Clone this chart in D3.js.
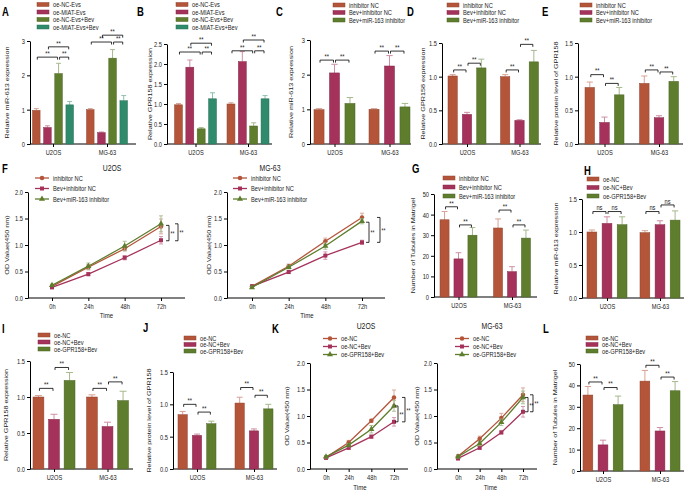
<!DOCTYPE html>
<html><head><meta charset="utf-8">
<script src="https://cdn.jsdelivr.net/npm/d3@7"></script>
<style>body{margin:0;background:#fff}svg{display:block}text{font-family:"Liberation Sans",Arial,sans-serif;fill:#1a1a1a}</style>
</head><body><svg id="c" width="685" height="492"></svg>
<script>
// ---------- DATA ----------
const cells = ["U2OS", "MG-63"];
const timeValues = [0, 24, 48, 72];
const timeLabels = ["0h", "24h", "48h", "72h"];

const legEvs = ["oe-NC-Evs", "oe-MIAT-Evs", "oe-NC-Evs+Bev", "oe-MIAT-Evs+Bev"];
const legInh = ["inhibitor NC", "Bev+inhibitor NC", "Bev+miR-163 inhibitor"];
const legOe = ["oe-NC", "oe-NC+Bev", "oe-GPR158+Bev"];

// bar panels: [cell][series]
const meanA = [[0.98, 0.48, 2.05, 1.14], [1.00, 0.33, 2.50, 1.26]];
const errA  = [[0.05, 0.05, 0.30, 0.10], [0.03, 0.02, 0.25, 0.15]];
const sigA  = [[0,0,2,2.53,"**"],[0,2,3,2.53,"**"],[0,1,3,2.83,"**"],[1,0,2,2.97,"**"],[1,2,3,2.97,"**"],[1,1,3,3.17,"**"]];

const meanB = [[0.98, 1.92, 0.38, 1.13], [1.00, 2.06, 0.45, 1.13]];
const errB  = [[0.03, 0.18, 0.03, 0.15], [0.03, 0.25, 0.08, 0.08]];
const sigB  = [[0,0,2,2.30,"**"],[0,2,3,2.30,"**"],[0,1,3,2.52,"**"],[1,0,2,2.33,"**"],[1,2,3,2.33,"**"],[1,1,3,2.60,"**"]];

const meanC = [[0.99, 2.05, 1.17], [1.00, 2.25, 1.07]];
const errC  = [[0.03, 0.25, 0.17], [0.02, 0.30, 0.10]];
const sigC  = [[0,0,1,2.42,"**"],[0,1,2,2.42,"**"],[1,0,1,2.68,"**"],[1,1,2,2.68,"**"]];

const meanD = [[1.01, 0.44, 1.13], [1.00, 0.35, 1.22]];
const errD  = [[0.02, 0.03, 0.13], [0.03, 0.01, 0.17]];
const sigD  = [[0,0,1,1.10,"**"],[0,1,2,1.20,"**"],[1,0,1,1.10,"**"],[1,1,2,1.48,"**"]];

const meanE = [[0.84, 0.32, 0.73], [0.90, 0.39, 0.93]];
const errE  = [[0.08, 0.08, 0.11], [0.11, 0.03, 0.07]];
const sigE  = [[0,0,1,1.03,"**"],[0,1,2,0.90,"**"],[1,0,1,1.10,"**"],[1,1,2,1.07,"**"]];

const meanG = [[37.5, 18.5, 30.0], [33.5, 12.3, 28.6]];
const errG  = [[4.0, 3.0, 3.7], [4.4, 2.4, 3.9]];
const sigG  = [[0,0,1,43.8,"**"],[0,1,2,35.0,"**"],[1,0,1,42.2,"**"],[1,1,2,35.0,"**"]];

const meanH = [[1.00, 1.13, 1.11], [0.99, 1.11, 1.18]];
const errH  = [[0.03, 0.10, 0.12], [0.03, 0.06, 0.14]];
const sigH  = [[0,0,1,1.31,"ns"],[0,1,2,1.31,"ns"],[1,0,1,1.31,"ns"],[1,1,2,1.41,"ns"]];

const meanI = [[1.00, 0.69, 1.23], [1.00, 0.59, 0.95]];
const errI  = [[0.02, 0.07, 0.11], [0.03, 0.06, 0.13]];
const sigI  = [[0,0,1,1.12,"**"],[0,1,2,1.41,"**"],[1,0,1,1.12,"**"],[1,1,2,1.21,"**"]];

const meanJ = [[0.84, 0.52, 0.70], [1.02, 0.59, 0.93]];
const errJ  = [[0.05, 0.02, 0.04], [0.09, 0.03, 0.07]];
const sigJ  = [[0,0,1,1.00,"**"],[0,1,2,0.88,"**"],[1,0,1,1.26,"**"],[1,1,2,1.14,"**"]];

const meanL = [[35.5, 12.2, 31.0], [42.0, 18.7, 37.5]];
const errL  = [[4.0, 2.2, 4.0], [5.0, 1.6, 4.3]];
const sigL  = [[0,0,1,41.6,"**"],[0,1,2,39.0,"**"],[1,0,1,49.4,"**"],[1,1,2,43.9,"**"]];

// line panels: [series][time]
const odF_U2OS = [[0.22, 0.58, 0.93, 1.35], [0.20, 0.45, 0.76, 1.09], [0.24, 0.60, 0.98, 1.40]];
const seF_U2OS = [[0.02, 0.05, 0.04, 0.14], [0.02, 0.03, 0.04, 0.07], [0.02, 0.06, 0.09, 0.15]];
const sigF_U2OS = [[1.37, 1.08, "**"], [1.40, 1.08, "**"]];
const odF_MG63 = [[0.22, 0.60, 1.07, 1.52], [0.22, 0.49, 0.80, 1.05], [0.20, 0.58, 0.98, 1.45]];
const seF_MG63 = [[0.02, 0.04, 0.06, 0.08], [0.02, 0.03, 0.07, 0.04], [0.02, 0.03, 0.06, 0.05]];
const sigF_MG63 = [[1.43, 1.05, "**"], [1.52, 1.05, "**"]];
const odK_U2OS = [[0.22, 0.50, 0.91, 1.35], [0.21, 0.40, 0.61, 0.89], [0.23, 0.45, 0.75, 1.19]];
const seK_U2OS = [[0.02, 0.04, 0.03, 0.14], [0.02, 0.03, 0.03, 0.08], [0.02, 0.03, 0.07, 0.10]];
const sigK_U2OS = [[1.19, 0.89, "**"], [1.35, 0.89, "**"]];
const odK_MG63 = [[0.24, 0.57, 0.96, 1.40], [0.20, 0.40, 0.69, 1.08], [0.23, 0.48, 0.88, 1.35]];
const seK_MG63 = [[0.02, 0.05, 0.09, 0.13], [0.03, 0.03, 0.03, 0.10], [0.02, 0.04, 0.06, 0.12]];
const sigK_MG63 = [[1.35, 1.08, "**"], [1.40, 1.08, "**"]];

// ---------- STYLE ----------
const BR = "#b4553a", MG = "#a5325a", GR = "#5e7d2d", TL = "#2f8b6b";
const col4 = [BR, MG, GR, TL], col3 = [BR, MG, GR];
const FS = 7.5;      // tick / legend font
const SX = 0.76;     // horizontal squeeze of the original figure's lettering
const svg = d3.select("#c");

function errColor(c){ return d3.interpolateRgb(c, "#ffffff")(0.45); }
function styleAxis(a){
  a.selectAll("text").attr("font-size", FS).style("fill", "#1a1a1a");
  a.selectAll("line").attr("stroke", "#000");
  a.selectAll(".domain").attr("stroke", "#000");
}
function letter(t, x, y){ svg.append("text").attr("x", x).attr("y", y).attr("font-size", 12.5).attr("font-weight", "bold").style("fill","#000").text(t); }
function yLabel(t, x, yc){
  svg.append("text").attr("data-rot", 1)
    .attr("transform", `translate(${x},${yc}) rotate(-90) scale(1,${SX})`)
    .attr("text-anchor", "middle").attr("font-size", 7.2).text(t);
}

function barPanel(L){
  const y = d3.scaleLinear().domain([0, L.max]).range([L.y0, L.y1]);
  const gx = d3.scalePoint().domain(cells).range(L.gc);
  const n = L.names.length;
  const bx = d3.scaleBand().domain(d3.range(n)).range([-L.gw/2, L.gw/2]).paddingInner(L.pad);
  const bw = bx.bandwidth();
  const g = svg.append("g");
  const ya = g.append("g").attr("transform", `translate(${L.x0},0)`)
    .call(d3.axisLeft(y).tickValues(L.ticks).tickFormat(d3.format(L.fmt)).tickSize(3).tickSizeOuter(0).tickPadding(2));
  styleAxis(ya);
  const xa = g.append("g").attr("transform", `translate(0,${L.y0})`)
    .call(d3.axisBottom(gx).tickSize(3).tickSizeOuter(0).tickPadding(3));
  xa.select(".domain").remove();
  styleAxis(xa);
  g.append("line").attr("x1", L.x0).attr("x2", L.x1).attr("y1", L.y0).attr("y2", L.y0).attr("stroke", "#000");
  cells.forEach((c, i) => {
    L.mean[i].forEach((v, j) => {
      const x = gx(c) + bx(j);
      const ec = errColor(L.colors[j]);
      const cx = x + bw/2, ye = y(v + L.err[i][j]);
      g.append("line").attr("x1", cx).attr("x2", cx).attr("y1", y(v)).attr("y2", ye).attr("stroke", ec).attr("stroke-width", 1);
      g.append("line").attr("x1", cx - bw*0.32).attr("x2", cx + bw*0.32).attr("y1", ye).attr("y2", ye).attr("stroke", ec).attr("stroke-width", 1);
      g.append("rect").attr("x", x).attr("y", y(v)).attr("width", bw).attr("height", L.y0 - y(v))
        .attr("fill", L.colors[j]).attr("stroke", d3.color(L.colors[j]).darker(0.6)).attr("stroke-width", 0.5);
    });
  });
  L.sig.forEach(([i, a, b, lv, t]) => {
    const xa_ = gx(cells[i]) + bx(a) + bw/2 + 1, xb = gx(cells[i]) + bx(b) + bw/2 - 1, yl = y(lv);
    g.append("path").attr("d", `M${xa_},${yl+2.5}V${yl}H${xb}V${yl+2.5}`).attr("fill", "none").attr("stroke", "#000").attr("stroke-width", 0.8);
    g.append("text").attr("x", (xa_ + xb)/2).attr("y", yl - 1.2).attr("text-anchor", "middle").attr("font-size", FS).text(t);
  });
  L.names.forEach((nm, j) => {
    const yy = L.ly + j*L.ls;
    g.append("rect").attr("x", L.lx).attr("y", yy - 2).attr("width", 12).attr("height", 4)
      .attr("fill", L.colors[j]).attr("stroke", d3.color(L.colors[j]).darker(0.6)).attr("stroke-width", 0.5);
    g.append("text").attr("x", L.lx + 16).attr("y", yy + 2.6).attr("font-size", FS).text(nm);
  });
  yLabel(L.ylab, L.yx, (L.y0 + L.y1)/2);
  letter(L.letter, L.lp[0], L.lp[1]);
}

const symbols = [d3.symbolCircle, d3.symbolSquare, d3.symbolTriangle];
function linePanel(L){
  const x = d3.scaleLinear().domain([0, 72]).range(L.xr);
  const y = d3.scaleLinear().domain([0, 2]).range([L.y0, L.y1]);
  const g = svg.append("g");
  const ya = g.append("g").attr("transform", `translate(${L.x0},0)`)
    .call(d3.axisLeft(y).tickValues([0, 0.5, 1, 1.5, 2]).tickFormat(d3.format(".1f")).tickSize(3).tickSizeOuter(0).tickPadding(2));
  styleAxis(ya);
  const xa = g.append("g").attr("transform", `translate(0,${L.y0})`)
    .call(d3.axisBottom(x).tickValues(timeValues).tickFormat((d, i) => timeLabels[i]).tickSize(3).tickSizeOuter(0).tickPadding(3));
  xa.select(".domain").remove();
  styleAxis(xa);
  g.append("line").attr("x1", L.x0).attr("x2", L.x1).attr("y1", L.y0).attr("y2", L.y0).attr("stroke", "#000");
  const line = d3.line().x((d, i) => x(timeValues[i])).y(d => y(d));
  L.od.forEach((s, j) => {
    const c = col3[j], ec = errColor(c);
    s.forEach((v, k) => {
      const cx = x(timeValues[k]), e = L.se[j][k];
      g.append("path").attr("d", `M${cx-2},${y(v+e)}H${cx+2}M${cx},${y(v+e)}V${y(v-e)}M${cx-2},${y(v-e)}H${cx+2}`)
        .attr("stroke", ec).attr("fill", "none").attr("stroke-width", 0.9);
    });
    g.append("path").attr("d", line(s)).attr("fill", "none").attr("stroke", c).attr("stroke-width", 1.3);
    s.forEach((v, k) => {
      g.append("path").attr("d", d3.symbol(symbols[j], 16)()).attr("transform", `translate(${x(timeValues[k])},${y(v)})`).attr("fill", c);
    });
    const yy = L.ly + j*L.ls;
    g.append("line").attr("x1", L.lx).attr("x2", L.lx + 14).attr("y1", yy).attr("y2", yy).attr("stroke", c).attr("stroke-width", 1.3);
    g.append("path").attr("d", d3.symbol(symbols[j], 16)()).attr("transform", `translate(${L.lx + 7},${yy})`).attr("fill", c);
    g.append("text").attr("x", L.lx + 18).attr("y", yy + 2.6).attr("font-size", FS).text(L.names[j]);
  });
  L.sig.forEach(([hi, lo, t], m) => {
    const bxp = L.bx[m];
    g.append("path").attr("d", `M${bxp-3},${y(hi)}H${bxp}V${y(lo)}H${bxp-3}`).attr("fill", "none").attr("stroke", "#000").attr("stroke-width", 0.8);
    g.append("text").attr("x", bxp + 1.5).attr("y", (y(hi) + y(lo))/2 + 3).attr("font-size", 6.5).text(t);
  });
  g.append("text").attr("x", L.tx).attr("y", L.ty).attr("text-anchor", "middle").attr("font-size", 9).text(L.title);
  g.append("text").attr("x", (L.xr[0] + L.xr[1])/2).attr("y", L.timeY).attr("text-anchor", "middle").attr("font-size", 8).text("Time");
  yLabel("OD Value(450 nm)", L.yx, (L.y0 + L.y1)/2);
}

// ---------- PANELS ----------
barPanel({letter:"A", lp:[2,16], names:legEvs, colors:col4, mean:meanA, err:errA, sig:sigA,
  x0:30, x1:136, y0:144, y1:41, max:3, ticks:[0,1,2,3], fmt:"d", gc:[53,107], gw:41, pad:0.32,
  lx:37, ly:4.5, ls:7.5, ylab:"Relative miR-613 expression", yx:9});
barPanel({letter:"B", lp:[137,16], names:legEvs, colors:col4, mean:meanB, err:errB, sig:sigB,
  x0:167, x1:272, y0:144, y1:44, max:2.5, ticks:[0,0.5,1,1.5,2,2.5], fmt:".1f", gc:[195.5,248], gw:42, pad:0.3,
  lx:176, ly:4.5, ls:7.5, ylab:"Relative GPR158 expression", yx:152});
barPanel({letter:"C", lp:[276,16], names:legInh, colors:col3, mean:meanC, err:errC, sig:sigC,
  x0:310, x1:411, y0:144, y1:40, max:3, ticks:[0,1,2,3], fmt:"d", gc:[334.5,389.5], gw:41, pad:0.35,
  lx:333, ly:5, ls:7.5, ylab:"Relative miR-613 expression", yx:293});
barPanel({letter:"D", lp:[407,16], names:legInh, colors:col3, mean:meanD, err:errD, sig:sigD,
  x0:442, x1:541, y0:144, y1:43, max:1.5, ticks:[0,0.5,1,1.5], fmt:".1f", gc:[467,519.5], gw:38, pad:0.35,
  lx:447, ly:5, ls:7.5, ylab:"Relative GPR158 expression", yx:425});
barPanel({letter:"E", lp:[542,16], names:legInh, colors:col3, mean:meanE, err:errE, sig:sigE,
  x0:578, x1:683, y0:144, y1:43, max:1.5, ticks:[0,0.5,1,1.5], fmt:".1f", gc:[604.5,659], gw:39, pad:0.35,
  lx:580, ly:5, ls:7.5, ylab:"Relative protein level of GPR158", yx:558});

letter("F", 2, 173);
linePanel({names:legInh, od:odF_U2OS, se:seF_U2OS, sig:sigF_U2OS, bx:[169,178],
  x0:28, x1:185, xr:[52,161], y0:298, y1:192, lx:35, ly:178, ls:10.5, title:"U2OS", tx:112, ty:171.5, timeY:318, yx:9});
linePanel({names:legInh, od:odF_MG63, se:seF_MG63, sig:sigF_MG63, bx:[369,380],
  x0:227, x1:385, xr:[252,362], y0:298, y1:192, lx:233, ly:178, ls:10.5, title:"MG-63", tx:270, ty:171.5, timeY:318, yx:211});

barPanel({letter:"G", lp:[412,173], names:legInh, colors:col3, mean:meanG, err:errG, sig:sigG,
  x0:434, x1:537, y0:297, y1:194, max:50, ticks:[0,10,20,30,40,50], fmt:"d", gc:[458.5,512], gw:37, pad:0.35,
  lx:443, ly:178, ls:9, ylab:"Number of Tubules in Matrigel", yx:415});
barPanel({letter:"H", lp:[584,175], names:legOe, colors:col3, mean:meanH, err:errH, sig:sigH,
  x0:582, x1:684, y0:298, y1:199, max:1.5, ticks:[0,0.5,1,1.5], fmt:".1f", gc:[607,660], gw:40, pad:0.35,
  lx:587, ly:179, ls:8.5, ylab:"Relative miR-613 expression", yx:558});

barPanel({letter:"I", lp:[2,333], names:legOe, colors:col3, mean:meanI, err:errI, sig:sigI,
  x0:30, x1:133, y0:469, y1:361, max:1.5, ticks:[0,0.5,1,1.5], fmt:".1f", gc:[54,107.5], gw:42, pad:0.3,
  lx:38, ly:335, ls:7, ylab:"Relative GPR158 expression", yx:8});
barPanel({letter:"J", lp:[143,332], names:legOe, colors:col3, mean:meanJ, err:errJ, sig:sigJ,
  x0:173, x1:277, y0:469, y1:372, max:1.5, ticks:[0,0.5,1,1.5], fmt:".1f", gc:[197,254], gw:38, pad:0.35,
  lx:184, ly:338, ls:6.5, ylab:"Relative protein level of GPR158", yx:151});

letter("K", 272, 333);
linePanel({names:legOe, od:odK_U2OS, se:seK_U2OS, sig:sigK_U2OS, bx:[398,405],
  x0:310, x1:408, xr:[326,394], y0:469, y1:363, lx:323, ly:338.5, ls:8, title:"U2OS", tx:366, ty:329, timeY:490, yx:289});
linePanel({names:legOe, od:odK_MG63, se:seK_MG63, sig:sigK_MG63, bx:[528,533],
  x0:437, x1:537, xr:[458,523], y0:469, y1:363, lx:455, ly:338.5, ls:8, title:"MG-63", tx:492, ty:329, timeY:490, yx:419});

barPanel({letter:"L", lp:[543,333], names:legOe, colors:col3, mean:meanL, err:errL, sig:sigL,
  x0:580, x1:684, y0:471, y1:364, max:50, ticks:[0,10,20,30,40,50], fmt:"d", gc:[603,660], gw:40, pad:0.35,
  lx:586, ly:338, ls:6.5, ylab:"Number of Tubules in Matrigel", yx:557});

// squeeze horizontal lettering about its anchor, like the original figure
svg.selectAll("text").each(function(){
  const t = d3.select(this);
  if (t.attr("data-rot")) return;
  const x = +t.attr("x") || 0, y = +t.attr("y") || 0;
  t.attr("transform", `translate(${x},${y}) scale(${SX},1) translate(${-x},${-y})`);
});
</script></body></html>
